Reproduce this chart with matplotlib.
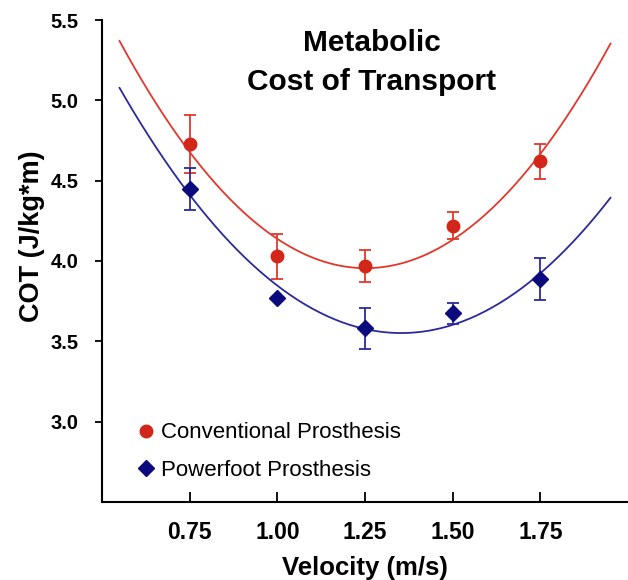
import numpy as np
import matplotlib
matplotlib.use('Agg')
import matplotlib.pyplot as plt
from matplotlib.lines import Line2D

plt.rcParams['font.family'] = ['Liberation Sans', 'DejaVu Sans']

velocity = [0.75, 1.00, 1.25, 1.50, 1.75]
conventional = [4.73, 4.03, 3.97, 4.22, 4.62]
conventional_err = [0.18, 0.14, 0.10, 0.085, 0.11]
powerfoot = [4.45, 3.77, 3.58, 3.675, 3.887]
powerfoot_err = [0.13, np.nan, 0.125, 0.065, 0.13]  # bar at 1.00 hidden by marker
xticks = [0.75, 1.00, 1.25, 1.50, 1.75]
yticks = [3.0, 3.5, 4.0, 4.5, 5.0, 5.5]

RED_PT = '#d2261a'
RED_LN = '#e2382c'
BLUE_PT = '#0b0b7e'
BLUE_LN = '#2a2a9c'

fig = plt.figure(figsize=(6.28, 5.8), dpi=100)
ax = fig.add_axes([102 / 628, 78 / 580, 526 / 628, 482 / 580])

# quadratic trend lines fitted to the means
xs = np.linspace(0.55, 1.95, 200)
for ys, col in [(conventional, RED_LN), (powerfoot, BLUE_LN)]:
    coef = np.polyfit(velocity, ys, 2)
    ax.plot(xs, np.polyval(coef, xs), color=col, lw=1.3, zorder=2)

ax.errorbar(velocity, conventional, yerr=conventional_err, fmt='o',
            color=RED_PT, ecolor=RED_LN, elinewidth=1.3, capsize=4.5,
            capthick=1.3, markersize=9, zorder=3)
ax.errorbar(velocity, powerfoot, yerr=powerfoot_err, fmt='D',
            color=BLUE_PT, ecolor=BLUE_LN, elinewidth=1.3, capsize=4.5,
            capthick=1.3, markersize=8.5, zorder=3)

ax.set_xlim(0.5, 2.0)
ax.set_ylim(2.5, 5.5)
ax.set_xticks(xticks)
ax.set_xticklabels([f'{v:.2f}' for v in xticks])
ax.set_yticks(yticks)
ax.set_yticklabels([f'{v:.1f}' for v in yticks])

for side in ['top', 'right']:
    ax.spines[side].set_visible(False)
for side in ['left', 'bottom']:
    ax.spines[side].set_linewidth(1.5)

ax.tick_params(axis='x', direction='in', length=7, width=1.3, pad=14,
               labelsize=16.5)
ax.tick_params(axis='y', direction='out', length=5, width=1.3, pad=12,
               labelsize=14.5)
for lab in ax.get_xticklabels() + ax.get_yticklabels():
    lab.set_fontweight('bold')

ax.set_xlabel('Velocity (m/s)', fontsize=18.5, fontweight='bold', labelpad=8)
ax.set_ylabel('COT (J/kg*m)', fontsize=19.5, fontweight='bold')
ax.yaxis.set_label_coords(-0.108, 0.552)

fig.text(372 / 628, 1 - 29 / 580, 'Metabolic\nCost of Transport',
         ha='center', va='top', fontsize=21.5, fontweight='bold',
         linespacing=1.5)

handles = [
    Line2D([], [], marker='o', color=RED_PT, ls='none', markersize=9),
    Line2D([], [], marker='D', color=BLUE_PT, ls='none', markersize=8),
]
ax.legend(handles, ['Conventional Prosthesis', 'Powerfoot Prosthesis'],
          loc='lower left', bbox_to_anchor=(0.042, 0.012), frameon=False,
          fontsize=16, handlelength=0.6, handletextpad=0.35,
          labelspacing=0.73, borderpad=0.2)

fig.savefig('out.png', dpi=100)
